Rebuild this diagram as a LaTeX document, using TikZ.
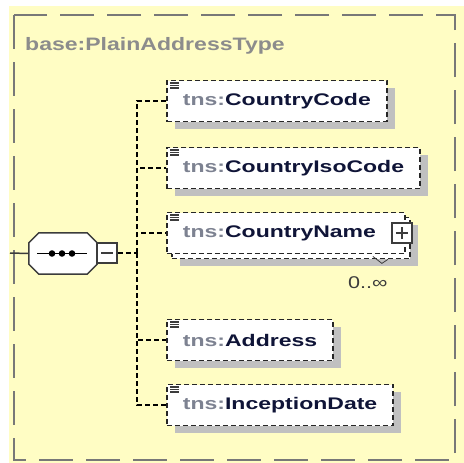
\documentclass[tikz,border=0pt]{standalone}
\usepackage{fontspec}
\usepackage{graphicx}
\usetikzlibrary{shadows,positioning}
\setmainfont{Liberation Sans}

\definecolor{bgyellow}{RGB}{255,253,196}
\definecolor{framegray}{RGB}{120,120,120}
\definecolor{titlegray}{RGB}{140,140,140}
\definecolor{tnsgray}{RGB}{125,130,145}
\definecolor{namenavy}{RGB}{15,20,55}
\definecolor{shadowgray}{RGB}{192,192,192}
\definecolor{linegray}{RGB}{60,60,60}

\newcommand{\tnsname}[1]{\scalebox{1.37}[1]{\fontsize{16.8}{18}\selectfont\bfseries\textcolor{tnsgray}{tns:}\textcolor{namenavy}{#1}}}
\newcommand{\octpath}[1]{([xshift=10pt]#1.north west) -- ([xshift=-10pt]#1.north east) -- ([yshift=-10pt]#1.north east)
	-- ([yshift=10pt]#1.south east) -- ([xshift=-10pt]#1.south east) -- ([xshift=10pt]#1.south west)
	-- ([yshift=10pt]#1.south west) -- ([yshift=-10pt]#1.north west) -- cycle}

\tikzset{
	elem/.style={draw=black!85, fill=white, line width=1.8pt, dash pattern=on 5pt off 3pt,
		minimum height=41pt, inner xsep=16pt, inner ysep=0pt, anchor=west},
	elemshadow/.style={drop shadow={shadow xshift=8pt, shadow yshift=-7pt, fill=shadowgray, opacity=1}},
	conn/.style={line width=1.8pt, dash pattern=on 5pt off 3pt},
	seqbox/.style={rectangle, minimum width=68pt, minimum height=41pt, inner sep=0pt},
	smallbox/.style={rectangle, minimum size=20pt, inner sep=0pt, draw=linegray, fill=white, line width=1.5pt}
}

\begin{document}
\begin{tikzpicture}[x=1pt,y=-1pt]
	%\draw[help lines] (0,0) grid (464,463);
	\useasboundingbox (0,0) rectangle (464,463);
	\fill[bgyellow] (9,6) rectangle (464,463);
	\draw[framegray, line width=2pt, dash pattern=on 34pt off 13pt] (14,15) rectangle (455,460);
	
	\node[anchor=base west, inner sep=0pt] (title) at (25,50)
		{\scalebox{1.28}[1]{\fontsize{18}{20}\selectfont\bfseries\color{titlegray}base:PlainAddressType}};
	
	% sequence
	\coordinate (entry) at (10,253);
	\node[seqbox] (seq) at (63,253.5) {};
	\fill[shadowgray, shift={(8,9)}] \octpath{seq};
	\filldraw[draw=linegray, fill=white, line width=1.5pt] \octpath{seq};
	\draw[linegray, line width=1.5pt] (entry) -- (seq.west);
	\draw[black, line width=1.5pt] ([xshift=-26pt]seq.center) -- ([xshift=24pt]seq.center);
	\foreach \dx in {-11,-1,9}
		\fill ([xshift=\dx pt]seq.center) circle (3.3pt);
	\node[smallbox] (fold) at (107,253) {};
	\draw[linegray, line width=1.4pt] ([xshift=-6pt]fold.center) -- ([xshift=6pt]fold.center);
	\coordinate (hub) at (137,253);
	\draw[conn] (fold.east) -- (hub);
	
	% children
	\node[elem, elemshadow] (cc) at (166,101) {\tnsname{CountryCode}};
	\node[elem, elemshadow] (ciso) at (166,168) {\tnsname{CountryIsoCode}};
	\node[elem, elemshadow] (cnameback) at (171,238) {\phantom{\tnsname{CountryName}}\hspace*{13pt}};
	\node[elem] (cname) at (166,233) {\tnsname{CountryName}\hspace*{13pt}};
	\node[elem, elemshadow] (addr) at (166,340) {\tnsname{Address}};
	\node[elem, elemshadow] (idate) at (166,405) {\tnsname{InceptionDate}};
	
	\node[smallbox] (expand) at ([xshift=-4pt]cname.east) {};
	\draw[linegray, line width=1.4pt] ([xshift=-6pt]expand.center) -- ([xshift=6pt]expand.center)
		([yshift=-6pt]expand.center) -- ([yshift=6pt]expand.center);
	\draw[linegray, line width=0.8pt] ([shift={(-33,2)}]cname.south east) -- ++(9,7) -- ++(6,-4);
	\node[anchor=base, inner sep=0pt, text=linegray] (occ) at ([shift={(-38,34)}]cname.south east)
		{\scalebox{1.27}[1]{\fontsize{17}{19}\selectfont 0..∞}};
	
	\foreach \n in {cc,ciso,cname,addr,idate}{
		\draw[conn] (hub) |- (\n.west);
		\foreach \dy in {3.5,6,8.5}
			\draw[linegray, line width=1.3pt] ([shift={(4,\dy)}]\n.north west) -- +(9,0);
	}
\end{tikzpicture}
\end{document}
